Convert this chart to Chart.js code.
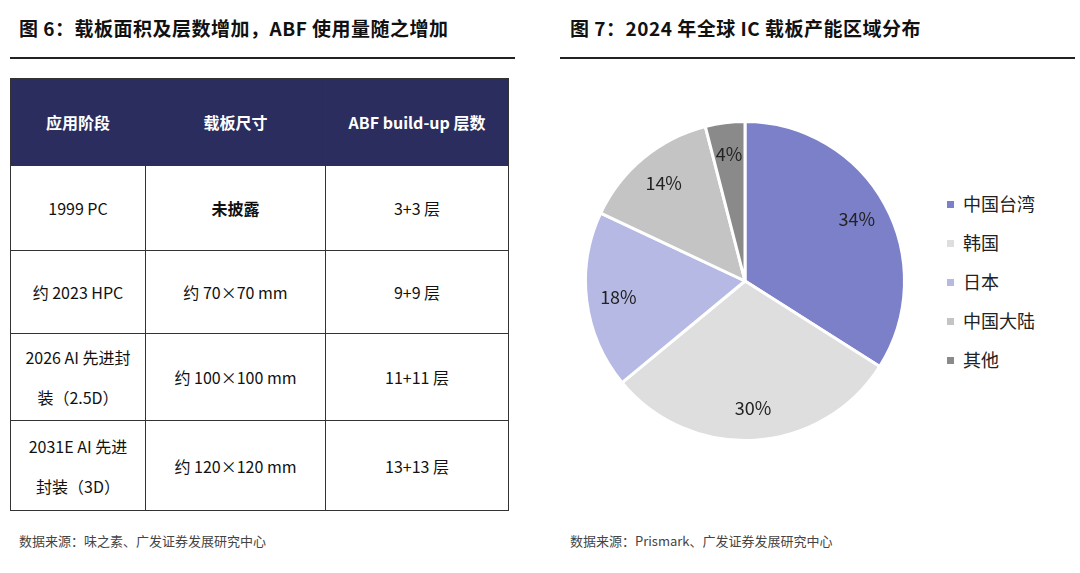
<!DOCTYPE html>
<html><head><meta charset="utf-8">
<script src="https://cdn.jsdelivr.net/npm/chart.js@4"></script>
<style>
body{margin:0;width:1080px;height:573px;background:#fff;font-family:"Noto Sans CJK SC","Noto Sans",sans-serif;position:relative;overflow:hidden;color:#111}
.title{position:absolute;top:14px;font-size:19px;font-weight:bold;letter-spacing:0.5px}
.rule{position:absolute;top:57px;height:2px;background:#222}
.src{position:absolute;top:531px;font-size:13px;color:#444}
table{position:absolute;left:10px;top:78px;border-collapse:collapse;font-size:16px}
td,th{border:1px solid #333;text-align:center;padding:0}
th{background:#2b2d5e;color:#fff;font-weight:bold;height:86px}
.leg{position:absolute;left:947px;font-size:18px;color:#222}
.leg span{display:inline-block;width:7px;height:7px;margin-right:9px;vertical-align:middle;position:relative;top:-2px}
</style></head><body>
<div class="title" style="left:19px">图 6：载板面积及层数增加，ABF 使用量随之增加</div>
<div class="rule" style="left:10px;width:505px"></div>
<table>
<tr><th style="width:134px">应用阶段</th><th style="width:179px">载板尺寸</th><th style="width:182px">ABF build-up 层数</th></tr>
<tr style="height:85px"><td>1999 PC</td><td style="font-weight:bold">未披露</td><td>3+3 层</td></tr>
<tr style="height:83px"><td>约 2023 HPC</td><td>约 70×70 mm</td><td>9+9 层</td></tr>
<tr style="height:87px"><td style="line-height:2.5">2026 AI 先进封<br>装（2.5D）</td><td>约 100×100 mm</td><td>11+11 层</td></tr>
<tr style="height:90px"><td style="line-height:2.5">2031E AI 先进<br>封装（3D）</td><td>约 120×120 mm</td><td>13+13 层</td></tr>
</table>
<div class="src" style="left:19px">数据来源：味之素、广发证券发展研究中心</div>

<div class="title" style="left:570px">图 7：2024 年全球 IC 载板产能区域分布</div>
<div class="rule" style="left:560px;width:515px"></div>
<div style="position:absolute;left:580px;top:116px;width:330px;height:330px"><canvas id="c"></canvas></div>
<div id="legend"></div>
<div class="src" style="left:570px">数据来源：Prismark、广发证券发展研究中心</div>
<script>
const regions=["中国台湾","韩国","日本","中国大陆","其他"];
const shares=[34,30,18,14,4];
const colors=["#7b80c9","#dedede","#b5b9e3","#c4c4c4","#8a8a8a"];
const lg=document.getElementById('legend');
regions.forEach((r,i)=>{const d=document.createElement('div');d.className='leg';d.style.top=(190+i*39)+'px';d.innerHTML='<span style="background:'+colors[i]+'"></span>'+r;lg.appendChild(d);});
const labelPlugin={id:'lbl',afterDatasetsDraw(ch){const ctx=ch.ctx;const m=ch.getDatasetMeta(0);ctx.save();ctx.font='18px "Noto Sans CJK SC","Noto Sans",sans-serif';ctx.fillStyle='#222';ctx.textAlign='center';ctx.textBaseline='middle';
m.data.forEach((a,i)=>{const ang=(a.startAngle+a.endAngle)/2;const r=a.outerRadius*0.8;ctx.fillText(shares[i]+'%',a.x+Math.cos(ang)*r,a.y+Math.sin(ang)*r);});ctx.restore();}};
new Chart(document.getElementById('c'),{type:'pie',data:{labels:regions,datasets:[{data:shares,backgroundColor:colors,borderColor:'#fff',borderWidth:3}]},
options:{responsive:true,maintainAspectRatio:false,animation:false,plugins:{legend:{display:false},tooltip:{enabled:false}},layout:{padding:4}},plugins:[labelPlugin]});
</script>
</body></html>
